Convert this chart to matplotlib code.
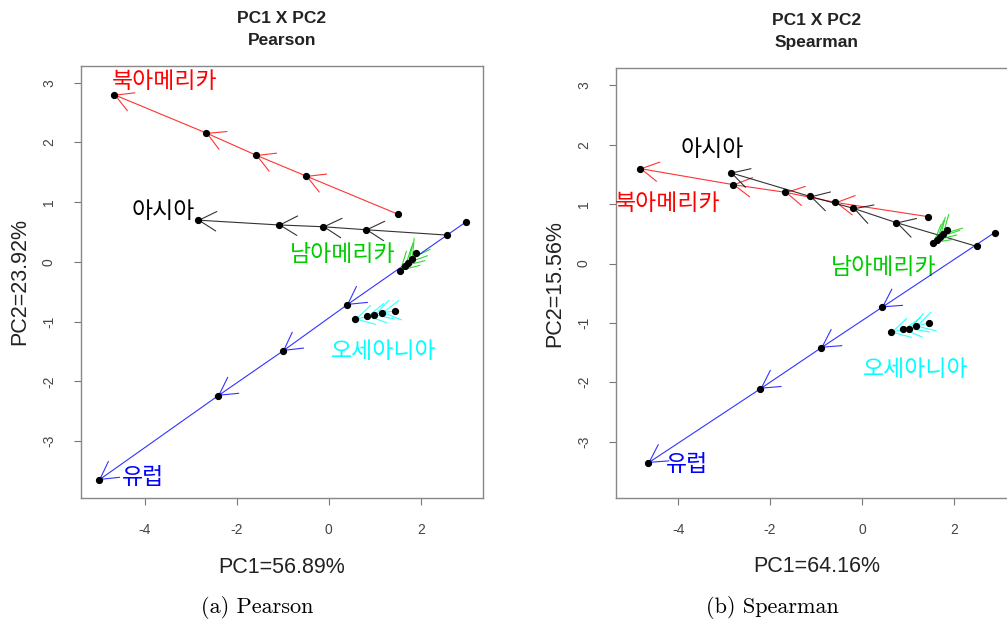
import matplotlib.pyplot as plt

plt.rcParams["font.family"] = ["Liberation Sans", "Noto Sans CJK KR", "DejaVu Sans"]
plt.rcParams["axes.unicode_minus"] = False

regions = ["북아메리카", "아시아", "남아메리카", "오세아니아", "유럽"]
region_colors = ["#FF0000", "#000000", "#00CD00", "#00FFFF", "#0000FF"]

# PC scores along each region's path (first point = start, arrows go onward)
pearson_pc1 = [
    [1.50, -0.50, -1.59, -2.67, -4.67],  # 북아메리카
    [2.57, 0.80, -0.13, -1.09, -2.85],   # 아시아
    [1.89, 1.80, 1.72, 1.65, 1.54],      # 남아메리카
    [1.43, 1.15, 0.98, 0.83, 0.57],      # 오세아니아
    [2.98, 0.39, -1.00, -2.41, -5.00],   # 유럽
]
pearson_pc2 = [
    [0.80, 1.44, 1.79, 2.16, 2.80],
    [0.45, 0.54, 0.59, 0.62, 0.70],
    [0.15, 0.05, -0.02, -0.07, -0.15],
    [-0.82, -0.85, -0.89, -0.91, -0.96],
    [0.67, -0.72, -1.49, -2.24, -3.65],
]
spearman_pc1 = [
    [1.43, -0.58, -1.67, -2.81, -4.83],
    [2.49, 0.74, -0.19, -1.13, -2.86],
    [1.84, 1.75, 1.69, 1.62, 1.54],
    [1.45, 1.17, 1.02, 0.89, 0.63],
    [2.88, 0.43, -0.89, -2.21, -4.65],
]
spearman_pc2 = [
    [0.79, 1.03, 1.20, 1.33, 1.60],
    [0.29, 0.69, 0.93, 1.13, 1.53],
    [0.56, 0.49, 0.44, 0.39, 0.34],
    [-1.00, -1.06, -1.10, -1.11, -1.16],
    [0.52, -0.74, -1.42, -2.11, -3.36],
]

pearson_var = (56.89, 23.92)
spearman_var = (64.16, 15.56)

# where the region names sit (data coords)
pearson_label_xy = [(-3.57, 3.02), (-3.6, 0.84), (0.29, 0.13), (1.2, -1.49), (-4.04, -3.6)]
spearman_label_xy = [(-4.22, 1.01), (-3.25, 1.92), (0.48, -0.07), (1.17, -1.79), (-3.81, -3.39)]


def draw_panel(ax, pc1, pc2, label_xy, method, var, xlim, ylim):
    for i, region in enumerate(regions):
        xs, ys = pc1[i], pc2[i]
        c = region_colors[i]
        for j in range(len(xs) - 1):
            ax.annotate("", xy=(xs[j + 1], ys[j + 1]), xytext=(xs[j], ys[j]),
                        arrowprops=dict(arrowstyle="->,head_length=1.25,head_width=0.7",
                                        color=c, lw=0.8, shrinkA=0, shrinkB=0, alpha=0.8))
        ax.plot(xs, ys, "o", color="black", ms=4.2, zorder=5)
        lx, ly = label_xy[i]
        ax.text(lx, ly, region, color=c, fontsize=16.5, ha="center", va="center",
                family=["Noto Sans CJK KR", "DejaVu Sans"])

    ax.set_xlim(*xlim)
    ax.set_ylim(*ylim)
    ax.set_xticks([-4, -2, 0, 2])
    ax.set_yticks([-3, -2, -1, 0, 1, 2, 3])
    ax.tick_params(length=5, pad=13, labelsize=10, colors="#777777", labelcolor="#444444")
    for lab in ax.get_yticklabels():
        lab.set_rotation(90)
        lab.set_va("center")
    for sp in ax.spines.values():
        sp.set_color("#888888")
        sp.set_linewidth(1.0)

    ax.text(0.5, 1.111, "PC1 X PC2", transform=ax.transAxes, ha="center", va="center",
            fontsize=12.5, fontweight="bold", color="#222222")
    ax.text(0.5, 1.060, method, transform=ax.transAxes, ha="center", va="center",
            fontsize=12.5, fontweight="bold", color="#222222")
    ax.text(0.5, -0.160, f"PC1={var[0]:.2f}%", transform=ax.transAxes, ha="center",
            va="center", fontsize=15.5, color="#222222")
    ax.text(-0.152, 0.5, f"PC2={var[1]:.2f}%", transform=ax.transAxes, ha="center",
            va="center", rotation=90, fontsize=15.5, color="#222222")


fig = plt.figure(figsize=(10.07, 6.21), dpi=100)
ax1 = fig.add_axes([0.0804, 0.1981, 0.3992, 0.6956])
ax2 = fig.add_axes([0.6117, 0.1981, 0.3992, 0.6920])

draw_panel(ax1, pearson_pc1, pearson_pc2, pearson_label_xy, "Pearson", pearson_var,
           (-5.39, 3.35), (-3.95, 3.28))
draw_panel(ax2, spearman_pc1, spearman_pc2, spearman_label_xy, "Spearman", spearman_var,
           (-5.35, 3.39), (-3.95, 3.29))

fig.text(0.255, 0.021, "(a) Pearson", ha="center", va="center", fontsize=16, family="cmr10")
fig.text(0.767, 0.021, "(b) Spearman", ha="center", va="center", fontsize=16, family="cmr10")

fig.savefig("out.png", dpi=100)
plt.close(fig)
